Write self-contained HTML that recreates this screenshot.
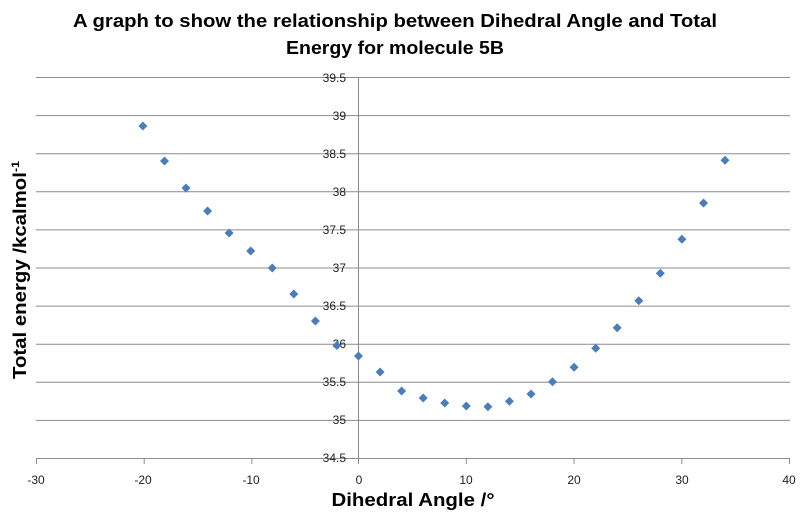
<!DOCTYPE html>
<html><head><meta charset="utf-8"><style>
html,body{margin:0;padding:0;background:#fff;}
svg{display:block;}
</style></head><body>
<svg width="800" height="516" xmlns="http://www.w3.org/2000/svg" font-family="Liberation Sans, sans-serif">
<rect width="800" height="516" fill="#fff"/>
<text x="395" y="27" font-size="18" font-weight="bold" text-anchor="middle" textLength="644" lengthAdjust="spacingAndGlyphs">A graph to show the relationship between Dihedral Angle and Total</text>
<text x="395" y="54" font-size="18" font-weight="bold" text-anchor="middle" textLength="218" lengthAdjust="spacingAndGlyphs">Energy for molecule  5B</text>
<g stroke="#8c8c8c" stroke-width="1">
<line x1="36" y1="77.5" x2="790" y2="77.5"/>
<line x1="36" y1="115.6" x2="790" y2="115.6"/>
<line x1="36" y1="153.7" x2="790" y2="153.7"/>
<line x1="36" y1="191.8" x2="790" y2="191.8"/>
<line x1="36" y1="229.9" x2="790" y2="229.9"/>
<line x1="36" y1="268" x2="790" y2="268"/>
<line x1="36" y1="306.1" x2="790" y2="306.1"/>
<line x1="36" y1="344.2" x2="790" y2="344.2"/>
<line x1="36" y1="382.3" x2="790" y2="382.3"/>
<line x1="36" y1="420.4" x2="790" y2="420.4"/>
<line x1="36" y1="458.5" x2="790" y2="458.5"/>
<line x1="358.5" y1="77" x2="358.5" y2="464"/>
<line x1="36.5" y1="458" x2="36.5" y2="464"/>
<line x1="144.2" y1="458" x2="144.2" y2="464"/>
<line x1="251.9" y1="458" x2="251.9" y2="464"/>
<line x1="466.3" y1="458" x2="466.3" y2="464"/>
<line x1="574" y1="458" x2="574" y2="464"/>
<line x1="681.8" y1="458" x2="681.8" y2="464"/>
<line x1="789.5" y1="458" x2="789.5" y2="464"/>
</g>
<g font-size="12" fill="#222" text-anchor="end">
<text x="346" y="82">39.5</text><text x="346" y="120">39</text><text x="346" y="158">38.5</text>
<text x="346" y="196">38</text><text x="346" y="234">37.5</text><text x="346" y="272">37</text>
<text x="346" y="310">36.5</text><text x="346" y="348">36</text><text x="346" y="386">35.5</text>
<text x="346" y="424">35</text><text x="346" y="462">34.5</text>
</g>
<g font-size="12" fill="#222" text-anchor="middle">
<text x="36" y="484">-30</text><text x="143" y="484">-20</text><text x="251" y="484">-10</text>
<text x="359" y="484">0</text><text x="466" y="484">10</text><text x="574" y="484">20</text>
<text x="682" y="484">30</text><text x="789" y="484">40</text>
</g>
<text x="413" y="506" font-size="18" font-weight="bold" text-anchor="middle" textLength="163" lengthAdjust="spacingAndGlyphs">Dihedral Angle /°</text>
<text transform="translate(26,270) rotate(-90)" font-size="18" font-weight="bold" text-anchor="middle" textLength="218" lengthAdjust="spacingAndGlyphs">Total energy /kcalmol<tspan font-size="11" dy="-7">-1</tspan></text>
<path fill="#4a7ebb" d="
M142.9,121.5 l4.5,4.5 l-4.5,4.5 l-4.5,-4.5z
M164.5,156.5 l4.5,4.5 l-4.5,4.5 l-4.5,-4.5z
M186.0,183.5 l4.5,4.5 l-4.5,4.5 l-4.5,-4.5z
M207.6,206.5 l4.5,4.5 l-4.5,4.5 l-4.5,-4.5z
M229.1,228.5 l4.5,4.5 l-4.5,4.5 l-4.5,-4.5z
M250.7,246.5 l4.5,4.5 l-4.5,4.5 l-4.5,-4.5z
M272.3,263.5 l4.5,4.5 l-4.5,4.5 l-4.5,-4.5z
M293.8,289.5 l4.5,4.5 l-4.5,4.5 l-4.5,-4.5z
M315.4,316.5 l4.5,4.5 l-4.5,4.5 l-4.5,-4.5z
M336.9,341.0 l4.5,4.5 l-4.5,4.5 l-4.5,-4.5z
M358.5,351.5 l4.5,4.5 l-4.5,4.5 l-4.5,-4.5z
M380.1,367.5 l4.5,4.5 l-4.5,4.5 l-4.5,-4.5z
M401.6,386.5 l4.5,4.5 l-4.5,4.5 l-4.5,-4.5z
M423.2,393.5 l4.5,4.5 l-4.5,4.5 l-4.5,-4.5z
M444.7,398.5 l4.5,4.5 l-4.5,4.5 l-4.5,-4.5z
M466.3,401.5 l4.5,4.5 l-4.5,4.5 l-4.5,-4.5z
M487.9,402.2 l4.5,4.5 l-4.5,4.5 l-4.5,-4.5z
M509.4,396.8 l4.5,4.5 l-4.5,4.5 l-4.5,-4.5z
M531.0,389.5 l4.5,4.5 l-4.5,4.5 l-4.5,-4.5z
M552.5,377.2 l4.5,4.5 l-4.5,4.5 l-4.5,-4.5z
M574.1,362.8 l4.5,4.5 l-4.5,4.5 l-4.5,-4.5z
M595.7,343.8 l4.5,4.5 l-4.5,4.5 l-4.5,-4.5z
M617.2,323.2 l4.5,4.5 l-4.5,4.5 l-4.5,-4.5z
M638.8,296.2 l4.5,4.5 l-4.5,4.5 l-4.5,-4.5z
M660.3,268.8 l4.5,4.5 l-4.5,4.5 l-4.5,-4.5z
M681.9,234.8 l4.5,4.5 l-4.5,4.5 l-4.5,-4.5z
M703.5,198.5 l4.5,4.5 l-4.5,4.5 l-4.5,-4.5z
M725.0,155.8 l4.5,4.5 l-4.5,4.5 l-4.5,-4.5z"/>
</svg>
</body></html>
